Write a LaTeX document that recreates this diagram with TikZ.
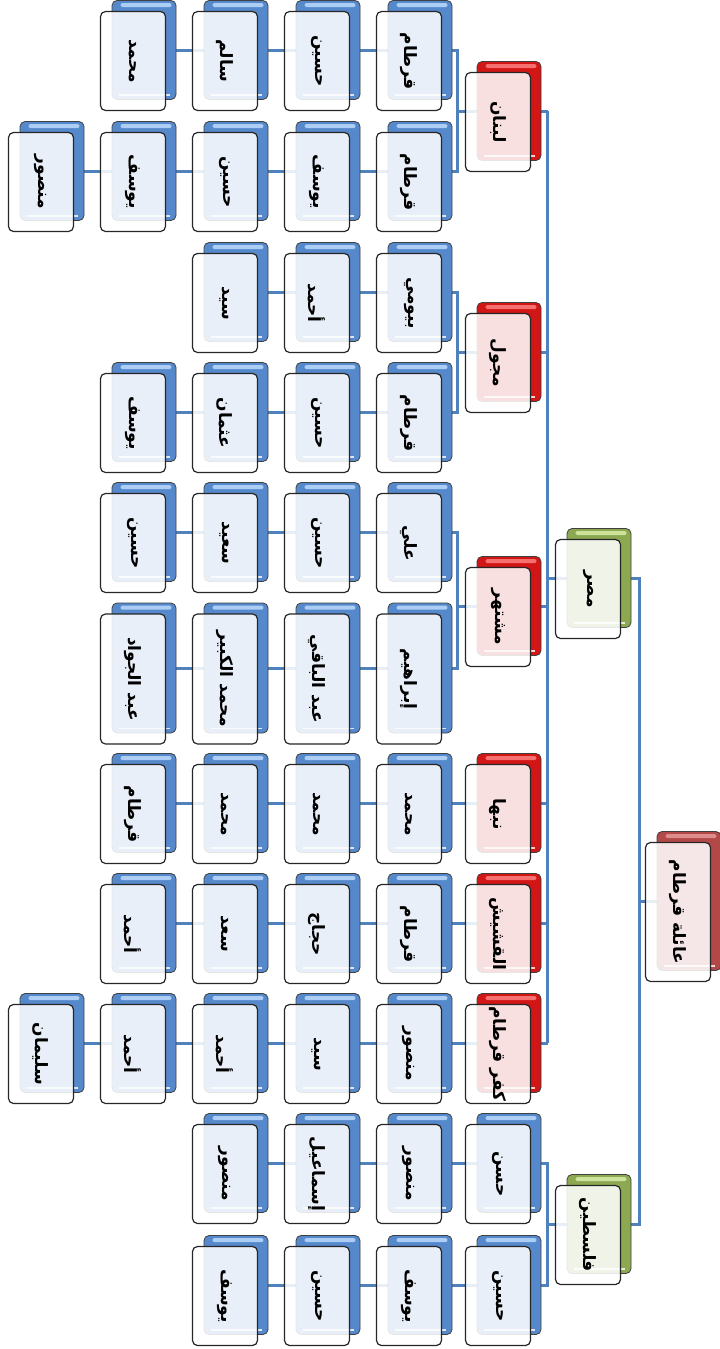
\documentclass[tikz,border=0pt]{standalone}
\usepackage{fontspec}
\newfontfamily\arabicfont[Script=Arabic]{DejaVu Sans}
\TeXXeTstate=1
\usetikzlibrary{backgrounds}
\definecolor{connblue}{RGB}{79,129,189}
\definecolor{bluebk}{RGB}{86,137,204}
\definecolor{bluebkhi}{RGB}{172,206,245}
\definecolor{redbk}{RGB}{210,22,22}
\definecolor{redbkhi}{RGB}{246,112,112}
\definecolor{greenbk}{RGB}{140,168,80}
\definecolor{greenbkhi}{RGB}{205,226,155}
\definecolor{rootbk}{RGB}{178,72,72}
\definecolor{rootbkhi}{RGB}{222,140,140}
\tikzset{
  conn/.style={draw=connblue, line width=3pt},
  backbox/.style={rounded corners=5pt, draw=black!75, line width=0.8pt, minimum width=64pt, inner sep=0pt},
  frontbox/.style={rounded corners=5pt, draw=black!85, line width=1.2pt, fill=white, fill opacity=0.87, minimum width=65pt, inner sep=0pt},
  lbl/.style={rotate=-90, font=\arabicfont\bfseries\fontsize{17}{19}\selectfont, text=black, inner sep=0pt},
}
\newcommand\famnode[6]{%
  \node[backbox, minimum height=#4pt, fill=#5] (#1) at (#2,#3) {};
  \fill[#5hi, rounded corners=1.5pt] ([xshift=9pt,yshift=-3pt]#1.north west) rectangle ([xshift=-5pt,yshift=-7pt]#1.north east);
  \draw[white, line width=1.2pt, opacity=0.8] ([xshift=7pt,yshift=5pt]#1.south west) -- ([xshift=-6pt,yshift=5pt]#1.south east);
  \node[frontbox, minimum height=#4pt] (#1f) at ([xshift=-11pt,yshift=-11pt]#1.center) {};
  \node[lbl] (#1t) at (#1f.center) {#6};
}
\begin{document}
\begin{tikzpicture}[x=1pt,y=-1pt]
\useasboundingbox (0,0) rectangle (720,1349);
\coordinate (bL) at (457,0);
\coordinate (bM) at (547.5,0);
\coordinate (bR) at (639,0);
% upper levels
\famnode{root}{689}{901}{139}{rootbk}{\beginR عائلة قرطام\endR}
\famnode{misr}{599}{578}{99}{greenbk}{\beginR مصر\endR}
\famnode{fil}{599}{1224}{99}{greenbk}{\beginR فلسطين\endR}
\famnode{lb}{509}{111}{99}{redbk}{\beginR لبنان\endR}
\famnode{mj}{509}{352}{99}{redbk}{\beginR مجول\endR}
\famnode{ms}{509}{606}{99}{redbk}{\beginR مشتهر\endR}
\famnode{nb}{509}{803}{99}{redbk}{\beginR نبها\endR}
\famnode{qs}{509}{923}{99}{redbk}{\beginR القشيش\endR}
\famnode{kq}{509}{1043}{99}{redbk}{\beginR كفر قرطام\endR}
\famnode{hs}{509}{1163}{99}{bluebk}{\beginR حسن\endR}
\famnode{hn}{509}{1285}{99}{bluebk}{\beginR حسين\endR}
% row A
\famnode{A5}{420}{50}{99}{bluebk}{\beginR قرطام\endR}
\famnode{A4}{328}{50}{99}{bluebk}{\beginR حسين\endR}
\famnode{A3}{236}{50}{99}{bluebk}{\beginR سالم\endR}
\famnode{A2}{144}{50}{99}{bluebk}{\beginR محمد\endR}
% row B
\famnode{B5}{420}{171}{99}{bluebk}{\beginR قرطام\endR}
\famnode{B4}{328}{171}{99}{bluebk}{\beginR يوسف\endR}
\famnode{B3}{236}{171}{99}{bluebk}{\beginR حسين\endR}
\famnode{B2}{144}{171}{99}{bluebk}{\beginR يوسف\endR}
\famnode{B1}{52}{171}{99}{bluebk}{\beginR منصور\endR}
% row C
\famnode{C5}{420}{292}{99}{bluebk}{\beginR بيومي\endR}
\famnode{C4}{328}{292}{99}{bluebk}{\beginR أحمد\endR}
\famnode{C3}{236}{292}{99}{bluebk}{\beginR سيد\endR}
% row D
\famnode{D5}{420}{412}{99}{bluebk}{\beginR قرطام\endR}
\famnode{D4}{328}{412}{99}{bluebk}{\beginR حسين\endR}
\famnode{D3}{236}{412}{99}{bluebk}{\beginR عثمان\endR}
\famnode{D2}{144}{412}{99}{bluebk}{\beginR يوسف\endR}
% row E
\famnode{E5}{420}{532}{99}{bluebk}{\beginR علي\endR}
\famnode{E4}{328}{532}{99}{bluebk}{\beginR حسين\endR}
\famnode{E3}{236}{532}{99}{bluebk}{\beginR سعيد\endR}
\famnode{E2}{144}{532}{99}{bluebk}{\beginR حسين\endR}
% row F
\famnode{F5}{420}{668}{130}{bluebk}{\beginR إبراهيم\endR}
\famnode{F4}{328}{668}{130}{bluebk}{\beginR عبد الباقي\endR}
\famnode{F3}{236}{668}{130}{bluebk}{\beginR محمد الكبير\endR}
\famnode{F2}{144}{668}{130}{bluebk}{\beginR عبد الجواد\endR}
% row G
\famnode{G5}{420}{803}{99}{bluebk}{\beginR محمد\endR}
\famnode{G4}{328}{803}{99}{bluebk}{\beginR محمد\endR}
\famnode{G3}{236}{803}{99}{bluebk}{\beginR محمد\endR}
\famnode{G2}{144}{803}{99}{bluebk}{\beginR قرطام\endR}
% row H
\famnode{H5}{420}{923}{99}{bluebk}{\beginR قرطام\endR}
\famnode{H4}{328}{923}{99}{bluebk}{\beginR حجاج\endR}
\famnode{H3}{236}{923}{99}{bluebk}{\beginR سعد\endR}
\famnode{H2}{144}{923}{99}{bluebk}{\beginR أحمد\endR}
% row I
\famnode{I5}{420}{1043}{99}{bluebk}{\beginR منصور\endR}
\famnode{I4}{328}{1043}{99}{bluebk}{\beginR سيد\endR}
\famnode{I3}{236}{1043}{99}{bluebk}{\beginR أحمد\endR}
\famnode{I2}{144}{1043}{99}{bluebk}{\beginR أحمد\endR}
\famnode{I1}{52}{1043}{99}{bluebk}{\beginR سليمان\endR}
% row J
\famnode{J5}{420}{1163}{99}{bluebk}{\beginR منصور\endR}
\famnode{J4}{328}{1163}{99}{bluebk}{\beginR إسماعيل\endR}
\famnode{J3}{236}{1163}{99}{bluebk}{\beginR منصور\endR}
% row K
\famnode{K5}{420}{1285}{99}{bluebk}{\beginR يوسف\endR}
\famnode{K4}{328}{1285}{99}{bluebk}{\beginR حسين\endR}
\famnode{K3}{236}{1285}{99}{bluebk}{\beginR يوسف\endR}

\begin{scope}[on background layer]
% chains
\draw[conn] (A5.center) -- (A4.center) -- (A3.center) -- (A2.center);
\draw[conn] (B5.center) -- (B4.center) -- (B3.center) -- (B2.center) -- (B1.center);
\draw[conn] (C5.center) -- (C4.center) -- (C3.center);
\draw[conn] (D5.center) -- (D4.center) -- (D3.center) -- (D2.center);
\draw[conn] (E5.center) -- (E4.center) -- (E3.center) -- (E2.center);
\draw[conn] (F5.center) -- (F4.center) -- (F3.center) -- (F2.center);
\draw[conn] (nb.center) -- (G5.center) -- (G4.center) -- (G3.center) -- (G2.center);
\draw[conn] (qs.center) -- (H5.center) -- (H4.center) -- (H3.center) -- (H2.center);
\draw[conn] (kq.center) -- (I5.center) -- (I4.center) -- (I3.center) -- (I2.center) -- (I1.center);
\draw[conn] (hs.center) -- (J5.center) -- (J4.center) -- (J3.center);
\draw[conn] (hn.center) -- (K5.center) -- (K4.center) -- (K3.center);
% brackets to level 3
\draw[conn] (A5.center) -- (A5.center -| bL) |- (lb.center);
\draw[conn] (B5.center) -- (B5.center -| bL) |- (lb.center);
\draw[conn] (C5.center) -- (C5.center -| bL) |- (mj.center);
\draw[conn] (D5.center) -- (D5.center -| bL) |- (mj.center);
\draw[conn] (E5.center) -- (E5.center -| bL) |- (ms.center);
\draw[conn] (F5.center) -- (F5.center -| bL) |- (ms.center);
% Egypt bus
\draw[conn] (lb.center -| bM) -- (kq.center -| bM);
\draw[conn] (lb.center) -- (lb.center -| bM);
\draw[conn] (mj.center) -- (mj.center -| bM);
\draw[conn] (ms.center) -- (ms.center -| bM);
\draw[conn] (nb.center) -- (nb.center -| bM);
\draw[conn] (qs.center) -- (qs.center -| bM);
\draw[conn] (kq.center) -- (kq.center -| bM);
\draw[conn] (misr.center) -- (misr.center -| bM);
% Palestine bracket
\draw[conn] (hs.center) -- (hs.center -| bM) |- (fil.center);
\draw[conn] (hn.center) -- (hn.center -| bM) |- (fil.center);
% root bus
\draw[conn] (misr.center) -- (misr.center -| bR) -- (fil.center -| bR) -- (fil.center);
\draw[conn] (root.center) -- (root.center -| bR);
\end{scope}
\end{tikzpicture}
\end{document}
